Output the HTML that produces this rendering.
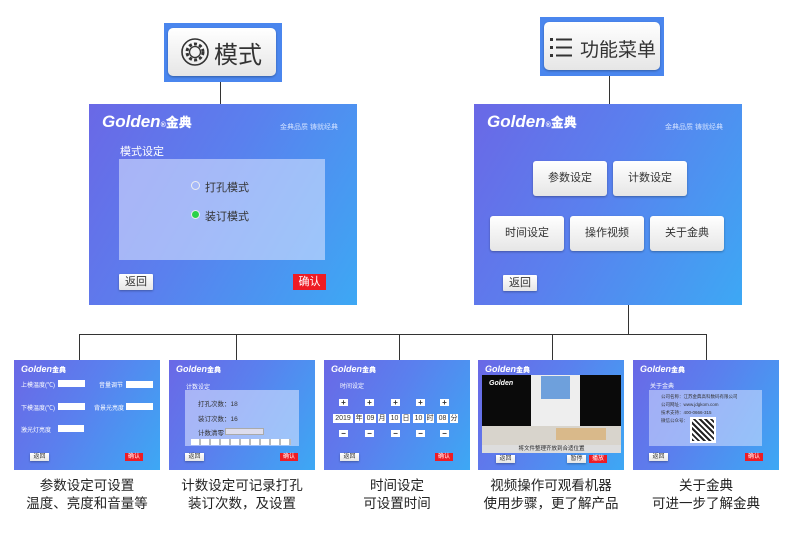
<!DOCTYPE html>
<html><head><meta charset="utf-8"><style>
*{margin:0;padding:0;box-sizing:border-box}
body{width:790px;height:541px;background:#fff;position:relative;overflow:hidden;font-family:"Liberation Sans","Noto Sans CJK SC",sans-serif}
.a{position:absolute}
.pan{position:absolute;background:linear-gradient(120deg,#6a68e6 0%,#5a80ee 45%,#3da8f4 100%);overflow:hidden}
.ln{position:absolute;background:#333}
.logo{position:absolute;color:#fff;font-style:italic;font-weight:bold}
.logo b{font-style:normal}
.slog{position:absolute;color:#cfe0ff}
.wb{position:absolute;background:linear-gradient(#fff,#e6e6e6);border-radius:3px;color:#333;text-align:center;box-shadow:0 1px 2px rgba(0,0,0,.3)}
.rb{position:absolute;background:#ee1c24;color:#fff;text-align:center}
.cap{position:absolute;text-align:center;font-size:13.5px;color:#222;line-height:18px}
.t{position:absolute;color:#fff;white-space:nowrap}
.box{position:absolute;background:rgba(255,255,255,.45)}
.cell{position:absolute;background:#fff;color:#333;font-size:7px;text-align:center;line-height:9px;height:9px}
.pm{position:absolute;background:#fff;color:#333;font-size:8px;font-weight:bold;text-align:center;line-height:7px;width:9px;height:7px}
</style></head><body>
<div class="ln" style="left:220px;top:82px;width:1px;height:22px"></div>
<div class="ln" style="left:609px;top:76px;width:1px;height:28px"></div>
<div class="ln" style="left:628px;top:305px;width:1px;height:29px"></div>
<div class="ln" style="left:79px;top:334px;width:628px;height:1px"></div>
<div class="ln" style="left:79px;top:334px;width:1px;height:26px"></div>
<div class="ln" style="left:236px;top:334px;width:1px;height:26px"></div>
<div class="ln" style="left:399px;top:334px;width:1px;height:26px"></div>
<div class="ln" style="left:552px;top:334px;width:1px;height:26px"></div>
<div class="ln" style="left:706px;top:334px;width:1px;height:26px"></div>

<div class="a" style="left:164px;top:23px;width:118px;height:59px;background:#4a86ee"></div>
<div class="wb" style="left:168px;top:28px;width:108px;height:48px;border-radius:5px"></div>
<svg class="a" style="left:180px;top:37px" width="30" height="30" viewBox="0 0 30 30"><circle cx="15" cy="15" r="13" fill="none" stroke="#333" stroke-width="1.6"/><circle cx="15" cy="15" r="8" fill="none" stroke="#333" stroke-width="3" stroke-dasharray="3 2.2"/><circle cx="15" cy="15" r="5.5" fill="none" stroke="#333" stroke-width="1.3"/></svg>
<div class="t" style="left:214px;top:35px;font-size:24px;color:#333">模式</div>

<div class="a" style="left:540px;top:17px;width:124px;height:59px;background:#4a86ee"></div>
<div class="wb" style="left:544px;top:22px;width:116px;height:48px;border-radius:5px"></div>
<svg class="a" style="left:550px;top:36px" width="24" height="22"><g fill="#333"><rect x="0" y="2" width="3" height="3"/><rect x="0" y="10" width="3" height="3"/><rect x="0" y="18" width="3" height="3"/><rect x="6" y="2.5" width="16" height="2"/><rect x="6" y="10.5" width="16" height="2"/><rect x="6" y="18.5" width="16" height="2"/></g></svg>
<div class="t" style="left:580px;top:35px;font-size:19px;color:#333">功能菜单</div>

<div class="pan" style="left:89px;top:104px;width:268px;height:201px"></div>
<div class="logo" style="left:102px;top:112px;font-size:17px">Golden<span style="font-size:7px">®</span><b style="font-size:13px">金典</b></div>
<div class="slog" style="left:280px;top:122px;font-size:7px">金典品质 铸就经典</div>
<div class="t" style="left:120px;top:143px;font-size:11px">模式设定</div>
<div class="box" style="left:119px;top:159px;width:206px;height:101px;background:rgba(215,225,255,.6)"></div>
<div class="a" style="left:191px;top:181px;width:9px;height:9px;border-radius:50%;border:1.5px solid #eee"></div>
<div class="t" style="left:205px;top:179px;font-size:11px;color:#333">打孔模式</div>
<div class="a" style="left:191px;top:210px;width:9px;height:9px;border-radius:50%;background:#2ad24a;border:1px solid #eee"></div>
<div class="t" style="left:205px;top:208px;font-size:11px;color:#333">装订模式</div>
<div class="wb" style="left:119px;top:274px;width:34px;height:16px;font-size:11px;line-height:16px;border-radius:1px">返回</div>
<div class="rb" style="left:293px;top:274px;width:33px;height:16px;font-size:11px;line-height:16px">确认</div>

<div class="pan" style="left:474px;top:104px;width:268px;height:201px"></div>
<div class="logo" style="left:487px;top:112px;font-size:17px">Golden<span style="font-size:7px">®</span><b style="font-size:13px">金典</b></div>
<div class="slog" style="left:665px;top:122px;font-size:7px">金典品质 铸就经典</div>
<div class="wb" style="left:533px;top:161px;width:74px;height:35px;font-size:11px;line-height:35px">参数设定</div>
<div class="wb" style="left:613px;top:161px;width:74px;height:35px;font-size:11px;line-height:35px">计数设定</div>
<div class="wb" style="left:490px;top:216px;width:74px;height:35px;font-size:11px;line-height:35px">时间设定</div>
<div class="wb" style="left:570px;top:216px;width:74px;height:35px;font-size:11px;line-height:35px">操作视频</div>
<div class="wb" style="left:650px;top:216px;width:74px;height:35px;font-size:11px;line-height:35px">关于金典</div>
<div class="wb" style="left:503px;top:275px;width:34px;height:16px;font-size:11px;line-height:16px;border-radius:1px">返回</div>

<div class="pan" style="left:14px;top:360px;width:146px;height:110px"></div>
<div class="pan" style="left:169px;top:360px;width:146px;height:110px"></div>
<div class="pan" style="left:324px;top:360px;width:146px;height:110px"></div>
<div class="pan" style="left:478px;top:360px;width:146px;height:110px"></div>
<div class="pan" style="left:633px;top:360px;width:146px;height:110px"></div>

<div class="logo" style="left:21px;top:364px;font-size:9px">Golden<b style="font-size:7px">金典</b></div>
<div class="logo" style="left:176px;top:364px;font-size:9px">Golden<b style="font-size:7px">金典</b></div>
<div class="logo" style="left:331px;top:364px;font-size:9px">Golden<b style="font-size:7px">金典</b></div>
<div class="logo" style="left:485px;top:364px;font-size:9px">Golden<b style="font-size:7px">金典</b></div>
<div class="logo" style="left:640px;top:364px;font-size:9px">Golden<b style="font-size:7px">金典</b></div>

<div class="t" style="left:21px;top:380px;font-size:6px">上模温度(℃)</div>
<div class="a" style="left:58px;top:380px;width:27px;height:7px;background:#fff"></div>
<div class="t" style="left:99px;top:380px;font-size:6px">音量调节</div>
<div class="a" style="left:126px;top:381px;width:27px;height:7px;background:#fff"></div>
<div class="t" style="left:21px;top:403px;font-size:6px">下模温度(℃)</div>
<div class="a" style="left:58px;top:403px;width:27px;height:7px;background:#fff"></div>
<div class="t" style="left:94px;top:403px;font-size:6px">背景光亮度</div>
<div class="a" style="left:126px;top:403px;width:27px;height:7px;background:#fff"></div>
<div class="t" style="left:21px;top:425px;font-size:6px">激光灯亮度</div>
<div class="a" style="left:58px;top:425px;width:26px;height:7px;background:#fff"></div>
<div class="wb" style="left:30px;top:453px;width:19px;height:8px;font-size:6px;line-height:8px;border-radius:0">返回</div>
<div class="rb" style="left:125px;top:453px;width:18px;height:8px;font-size:6px;line-height:8px">确认</div>

<div class="t" style="left:186px;top:382px;font-size:6px">计数设定</div>
<div class="box" style="left:185px;top:390px;width:114px;height:56px;background:rgba(215,225,255,.6)"></div>
<div class="t" style="left:198px;top:398px;font-size:6.5px;color:#333">打孔次数：18</div>
<div class="t" style="left:198px;top:413px;font-size:6.5px;color:#333">装订次数：16</div>
<div class="t" style="left:198px;top:427px;font-size:6.5px;color:#333">计数清零</div>
<div class="a" style="left:225px;top:428px;width:39px;height:7px;background:#dde;border:1px solid #aaa"></div>
<div class="a" style="left:191px;top:439px;width:100px;height:6px;background:repeating-linear-gradient(90deg,#fff 0 8px,#bbb 8px 10px)"></div>
<div class="wb" style="left:185px;top:453px;width:19px;height:8px;font-size:6px;line-height:8px;border-radius:0">返回</div>
<div class="rb" style="left:280px;top:453px;width:18px;height:8px;font-size:6px;line-height:8px">确认</div>

<div class="t" style="left:340px;top:381px;font-size:6px">时间设定</div>
<div class="pm" style="left:339px;top:399px">+</div>
<div class="pm" style="left:365px;top:399px">+</div>
<div class="pm" style="left:391px;top:399px">+</div>
<div class="pm" style="left:416px;top:399px">+</div>
<div class="pm" style="left:440px;top:399px">+</div>
<div class="cell" style="left:333px;top:414px;width:20px">2019</div>
<div class="cell" style="left:355px;top:414px;width:8px">年</div>
<div class="cell" style="left:365px;top:414px;width:11px">09</div>
<div class="cell" style="left:378px;top:414px;width:8px">月</div>
<div class="cell" style="left:389px;top:414px;width:11px">10</div>
<div class="cell" style="left:402px;top:414px;width:8px">日</div>
<div class="cell" style="left:413px;top:414px;width:11px">10</div>
<div class="cell" style="left:426px;top:414px;width:8px">时</div>
<div class="cell" style="left:437px;top:414px;width:11px">08</div>
<div class="cell" style="left:450px;top:414px;width:8px">分</div>
<div class="pm" style="left:339px;top:430px">−</div>
<div class="pm" style="left:365px;top:430px">−</div>
<div class="pm" style="left:391px;top:430px">−</div>
<div class="pm" style="left:416px;top:430px">−</div>
<div class="pm" style="left:440px;top:430px">−</div>
<div class="wb" style="left:340px;top:453px;width:19px;height:8px;font-size:6px;line-height:8px;border-radius:0">返回</div>
<div class="rb" style="left:435px;top:453px;width:18px;height:8px;font-size:6px;line-height:8px">确认</div>

<div class="a" style="left:482px;top:375px;width:139px;height:77px;background:#0a0a0a"></div>
<div class="a" style="left:531px;top:375px;width:49px;height:60px;background:#eee"></div>
<div class="a" style="left:541px;top:376px;width:29px;height:23px;background:#6ea0dc"></div>
<div class="a" style="left:482px;top:426px;width:139px;height:20px;background:#d8d4cc"></div>
<div class="a" style="left:556px;top:428px;width:50px;height:12px;background:#d9b98a"></div>
<div class="logo" style="left:489px;top:380px;font-size:7px">Golden</div>
<div class="a" style="left:482px;top:445px;width:139px;height:8px;background:#ddd;font-size:5.5px;text-align:center;line-height:8px;color:#222">将文件整理齐放到合适位置</div>
<div class="wb" style="left:496px;top:455px;width:19px;height:8px;font-size:6px;line-height:8px;border-radius:0">返回</div>
<div class="wb" style="left:567px;top:455px;width:19px;height:8px;font-size:6px;line-height:8px;border-radius:0">暂停</div>
<div class="rb" style="left:589px;top:455px;width:18px;height:8px;font-size:6px;line-height:8px">播放</div>

<div class="t" style="left:650px;top:381px;font-size:6px">关于金典</div>
<div class="box" style="left:649px;top:390px;width:113px;height:56px;background:rgba(215,225,255,.55)"></div>
<div class="t" style="left:661px;top:393px;font-size:4.5px;color:#333;line-height:8px">公司名称：江苏金典高科数码有限公司<br>公司网址：www.jdgkom.com<br>技术支持：400-0666-315<br>微信公众号：</div>
<div class="a" style="left:690px;top:417px;width:26px;height:26px;background:#fff;border:2px solid #fff;background-image:repeating-linear-gradient(45deg,#222 0 2px,#fff 2px 4px)"></div>
<div class="wb" style="left:649px;top:453px;width:19px;height:8px;font-size:6px;line-height:8px;border-radius:0">返回</div>
<div class="rb" style="left:745px;top:453px;width:18px;height:8px;font-size:6px;line-height:8px">确认</div>

<div class="cap" style="left:0;top:477px;width:174px">参数设定可设置<br>温度、亮度和音量等</div>
<div class="cap" style="left:160px;top:477px;width:164px">计数设定可记录打孔<br>装订次数，及设置</div>
<div class="cap" style="left:324px;top:477px;width:146px">时间设定<br>可设置时间</div>
<div class="cap" style="left:470px;top:477px;width:162px">视频操作可观看机器<br>使用步骤，更了解产品</div>
<div class="cap" style="left:626px;top:477px;width:160px">关于金典<br>可进一步了解金典</div>
</body></html>
